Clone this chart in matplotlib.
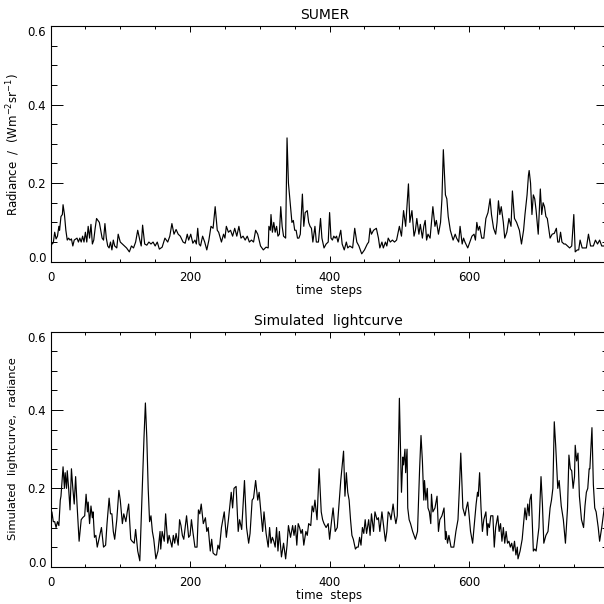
import matplotlib
matplotlib.use("Agg")
import matplotlib.pyplot as plt
from matplotlib.ticker import MultipleLocator

# -------------------------------------------------
# DATA
# -------------------------------------------------

sumer_steps = [
    0, 2, 4, 6, 8, 10, 12, 13, 15, 17, 18, 20, 22, 24, 26, 28, 30, 32, 34, 38,
    40, 42, 44, 46, 48, 50, 52, 54, 56, 58, 60, 62, 64, 66, 68, 70, 72, 74, 76, 78,
    80, 82, 84, 86, 88, 90, 92, 95, 97, 100, 103, 106, 109, 113, 116, 119, 122, 125, 128, 130,
    132, 135, 138, 141, 144, 147, 150, 153, 156, 160, 164, 168, 171, 174, 177, 180, 183, 186, 190, 193,
    196, 198, 201, 204, 207, 209, 211, 213, 215, 218, 221, 224, 227, 230, 233, 236, 239, 241, 245, 248,
    250, 252, 255, 258, 261, 264, 267, 270, 273, 276, 279, 282, 285, 288, 291, 294, 297, 301, 305, 309,
    312, 313, 315, 316, 318, 320, 322, 324, 326, 328, 330, 332, 334, 337, 339, 341, 343, 346, 348, 350,
    352, 354, 356, 358, 361, 363, 365, 368, 370, 372, 374, 376, 379, 381, 384, 387, 389, 392, 395, 398,
    400, 402, 404, 406, 408, 410, 412, 416, 418, 421, 424, 426, 429, 433, 436, 439, 442, 446, 450, 454,
    456, 458, 460, 463, 467, 470, 472, 475, 477, 480, 482, 484, 487, 490, 493, 496, 500, 503, 506, 509,
    513, 515, 518, 521, 523, 525, 528, 530, 533, 535, 537, 539, 541, 544, 548, 551, 553, 556, 559, 561,
    563, 566, 568, 570, 573, 577, 580, 582, 585, 587, 590, 592, 594, 598, 601, 604, 607, 609, 611, 613,
    615, 618, 621, 624, 627, 630, 632, 635, 638, 640, 642, 644, 646, 649, 651, 654, 657, 660, 662, 665,
    668, 670, 672, 675, 678, 680, 683, 685, 686, 688, 690, 692, 694, 696, 699, 702, 704, 706, 708, 710,
    712, 714, 716, 719, 722, 725, 727, 729, 731, 733, 736, 738, 741, 744, 747, 750, 752, 755, 757, 759,
    762, 765, 768, 771, 774, 778, 781, 784, 787, 790, 794,
]
sumer_radiance = [
    0.035, 0.045, 0.048, 0.075, 0.058, 0.065, 0.09, 0.08, 0.115, 0.12, 0.145, 0.12, 0.08, 0.055, 0.06, 0.055, 0.058, 0.04, 0.055, 0.06,
    0.05, 0.06, 0.05, 0.065, 0.05, 0.075, 0.05, 0.09, 0.06, 0.095, 0.045, 0.055, 0.085, 0.11, 0.105, 0.1, 0.08, 0.06, 0.055, 0.097,
    0.06, 0.04, 0.035, 0.05, 0.03, 0.055, 0.04, 0.035, 0.07, 0.05, 0.045, 0.04, 0.035, 0.025, 0.04, 0.035, 0.05, 0.08, 0.055, 0.04,
    0.093, 0.045, 0.042, 0.05, 0.045, 0.05, 0.04, 0.05, 0.032, 0.037, 0.06, 0.05, 0.065, 0.097, 0.07, 0.082, 0.07, 0.065, 0.05, 0.047,
    0.07, 0.055, 0.07, 0.047, 0.055, 0.045, 0.085, 0.045, 0.04, 0.065, 0.05, 0.03, 0.055, 0.09, 0.085, 0.14, 0.08, 0.075, 0.05, 0.07,
    0.06, 0.09, 0.075, 0.08, 0.065, 0.085, 0.065, 0.09, 0.06, 0.065, 0.055, 0.065, 0.05, 0.055, 0.05, 0.08, 0.07, 0.04, 0.03, 0.037,
    0.035, 0.09, 0.08, 0.12, 0.075, 0.1, 0.075, 0.09, 0.065, 0.07, 0.14, 0.09, 0.065, 0.06, 0.315, 0.2, 0.16, 0.1, 0.105, 0.08,
    0.08, 0.06, 0.06, 0.07, 0.172, 0.09, 0.125, 0.13, 0.1, 0.09, 0.085, 0.05, 0.09, 0.05, 0.05, 0.11, 0.06, 0.035, 0.045, 0.05,
    0.125, 0.06, 0.055, 0.065, 0.06, 0.065, 0.05, 0.08, 0.045, 0.03, 0.05, 0.035, 0.04, 0.035, 0.085, 0.05, 0.04, 0.02, 0.03, 0.045,
    0.05, 0.085, 0.07, 0.08, 0.085, 0.06, 0.035, 0.05, 0.035, 0.05, 0.04, 0.06, 0.05, 0.055, 0.05, 0.055, 0.09, 0.065, 0.13, 0.09,
    0.198, 0.1, 0.13, 0.065, 0.08, 0.11, 0.07, 0.095, 0.06, 0.09, 0.105, 0.055, 0.07, 0.06, 0.14, 0.09, 0.105, 0.07, 0.1, 0.16,
    0.285, 0.17, 0.16, 0.115, 0.08, 0.055, 0.07, 0.06, 0.05, 0.09, 0.045, 0.06, 0.05, 0.035, 0.05, 0.065, 0.07, 0.055, 0.1, 0.08,
    0.09, 0.06, 0.06, 0.11, 0.125, 0.16, 0.12, 0.085, 0.07, 0.1, 0.155, 0.12, 0.14, 0.1, 0.06, 0.075, 0.11, 0.09, 0.18, 0.11,
    0.1, 0.09, 0.08, 0.045, 0.08, 0.12, 0.17, 0.22, 0.232, 0.2, 0.12, 0.17, 0.16, 0.13, 0.07, 0.185, 0.12, 0.15, 0.14, 0.115,
    0.11, 0.085, 0.06, 0.07, 0.072, 0.085, 0.05, 0.05, 0.075, 0.05, 0.045, 0.045, 0.04, 0.035, 0.04, 0.12, 0.025, 0.03, 0.03, 0.055,
    0.035, 0.035, 0.035, 0.07, 0.04, 0.04, 0.055, 0.045, 0.055, 0.04, 0.04,
]

sim_steps = [
    0, 2, 4, 6, 8, 10, 12, 14, 15, 18, 20, 21, 23, 24, 26, 28, 30, 32, 34, 36,
    38, 41, 44, 46, 49, 51, 53, 54, 56, 58, 60, 61, 63, 65, 67, 70, 73, 76, 79, 81,
    84, 86, 88, 90, 92, 95, 98, 100, 103, 105, 108, 110, 112, 115, 117, 120, 122, 125, 128, 131,
    134, 136, 138, 140, 142, 144, 146, 148, 151, 154, 157, 158, 160, 163, 165, 168, 170, 172, 174, 176,
    178, 180, 183, 185, 187, 189, 191, 193, 195, 198, 200, 202, 204, 207, 210, 212, 214, 216, 219, 222,
    224, 226, 229, 231, 233, 236, 238, 240, 242, 245, 249, 252, 255, 259, 261, 263, 266, 269, 271, 274,
    278, 281, 284, 286, 289, 291, 294, 297, 299, 302, 304, 306, 309, 312, 314, 316, 318, 320, 322, 324,
    326, 328, 331, 334, 337, 339, 341, 344, 347, 349, 351, 353, 355, 357, 359, 361, 363, 366, 368, 370,
    373, 375, 377, 379, 382, 385, 388, 390, 392, 395, 398, 400, 403, 405, 408, 411, 414, 416, 420, 422,
    424, 426, 428, 430, 432, 434, 437, 439, 441, 443, 445, 447, 449, 451, 453, 456, 458, 460, 463, 465,
    468, 470, 472, 475, 477, 480, 482, 484, 486, 488, 491, 493, 495, 497, 500, 503, 505, 506, 508, 509,
    511, 512, 514, 516, 519, 523, 526, 529, 531, 533, 535, 536, 538, 540, 541, 543, 545, 546, 548, 551,
    554, 556, 558, 561, 564, 566, 567, 569, 571, 574, 578, 581, 584, 586, 588, 591, 594, 596, 598, 600,
    602, 605, 608, 610, 612, 613, 615, 617, 619, 621, 624, 626, 627, 629, 631, 634, 636, 638, 641, 643,
    645, 647, 649, 651, 653, 655, 657, 659, 661, 663, 665, 667, 669, 670, 673, 676, 680, 682, 684, 686,
    687, 689, 692, 694, 696, 698, 700, 703, 705, 707, 710, 713, 716, 718, 720, 722, 724, 727, 729, 732,
    735, 738, 741, 743, 745, 747, 749, 751, 752, 754, 756, 758, 761, 764, 766, 768, 770, 772, 773, 776,
    778, 780, 782, 785, 787, 790, 794,
]
sim_radiance = [
    0.09, 0.14, 0.115, 0.115, 0.1, 0.115, 0.105, 0.17, 0.18, 0.255, 0.2, 0.24, 0.2, 0.245, 0.2, 0.145, 0.25, 0.2, 0.16, 0.23,
    0.16, 0.065, 0.12, 0.125, 0.13, 0.185, 0.14, 0.165, 0.11, 0.155, 0.125, 0.14, 0.075, 0.08, 0.05, 0.075, 0.1, 0.05, 0.055, 0.11,
    0.175, 0.135, 0.135, 0.09, 0.07, 0.12, 0.195, 0.17, 0.11, 0.135, 0.115, 0.14, 0.16, 0.07, 0.065, 0.06, 0.095, 0.04, 0.015, 0.17,
    0.33, 0.418, 0.33, 0.2, 0.115, 0.13, 0.09, 0.07, 0.02, 0.04, 0.09, 0.045, 0.09, 0.065, 0.135, 0.06, 0.08, 0.065, 0.05, 0.08,
    0.06, 0.085, 0.055, 0.12, 0.105, 0.08, 0.07, 0.1, 0.13, 0.075, 0.08, 0.12, 0.09, 0.05, 0.05, 0.145, 0.135, 0.16, 0.11, 0.125,
    0.09, 0.1, 0.04, 0.07, 0.035, 0.03, 0.03, 0.055, 0.045, 0.1, 0.14, 0.075, 0.12, 0.19, 0.15, 0.2, 0.205, 0.09, 0.12, 0.095,
    0.22, 0.1, 0.06, 0.085, 0.17, 0.175, 0.22, 0.17, 0.19, 0.13, 0.09, 0.14, 0.085, 0.05, 0.1, 0.06, 0.075, 0.065, 0.05, 0.1,
    0.04, 0.09, 0.025, 0.06, 0.02, 0.055, 0.105, 0.075, 0.105, 0.08, 0.105, 0.055, 0.11, 0.1, 0.085, 0.095, 0.055, 0.09, 0.08, 0.11,
    0.105, 0.155, 0.14, 0.17, 0.12, 0.25, 0.14, 0.12, 0.11, 0.1, 0.11, 0.07, 0.12, 0.15, 0.09, 0.1, 0.17, 0.22, 0.295, 0.18,
    0.24, 0.19, 0.17, 0.12, 0.08, 0.07, 0.045, 0.05, 0.05, 0.075, 0.055, 0.1, 0.085, 0.12, 0.085, 0.12, 0.08, 0.135, 0.09, 0.14,
    0.12, 0.125, 0.09, 0.14, 0.11, 0.065, 0.09, 0.14, 0.135, 0.12, 0.16, 0.13, 0.11, 0.13, 0.43, 0.19, 0.28, 0.26, 0.3, 0.24,
    0.3, 0.15, 0.12, 0.11, 0.09, 0.07, 0.09, 0.25, 0.335, 0.27, 0.17, 0.22, 0.17, 0.2, 0.15, 0.14, 0.11, 0.185, 0.14, 0.15,
    0.18, 0.09, 0.12, 0.13, 0.15, 0.07, 0.09, 0.06, 0.08, 0.05, 0.05, 0.09, 0.12, 0.2, 0.29, 0.15, 0.13, 0.15, 0.165, 0.13,
    0.09, 0.06, 0.12, 0.16, 0.19, 0.18, 0.24, 0.15, 0.09, 0.12, 0.14, 0.08, 0.11, 0.1, 0.13, 0.13, 0.05, 0.1, 0.13, 0.09,
    0.11, 0.065, 0.1, 0.06, 0.09, 0.06, 0.065, 0.05, 0.06, 0.04, 0.065, 0.03, 0.05, 0.02, 0.04, 0.07, 0.15, 0.12, 0.16, 0.13,
    0.17, 0.185, 0.04, 0.045, 0.04, 0.07, 0.1, 0.23, 0.16, 0.06, 0.08, 0.09, 0.15, 0.17, 0.2, 0.37, 0.31, 0.2, 0.22, 0.155,
    0.12, 0.06, 0.15, 0.285, 0.25, 0.245, 0.2, 0.23, 0.31, 0.27, 0.29, 0.18, 0.12, 0.1, 0.155, 0.19, 0.2, 0.25, 0.25, 0.355,
    0.21, 0.15, 0.14, 0.1, 0.065, 0.1, 0.155,
]

y_ticks = [0.0, 0.2, 0.4, 0.6]
y_tick_labels = ["0.0", "0.2", "0.4", "0.6"]

# -------------------------------------------------
# PLOT
# -------------------------------------------------

plt.rcParams["font.family"] = ["DejaVu Sans"]

fig = plt.figure(figsize=(6.04, 6.04), dpi=100)


def draw_panel(y_top, y_bottom, steps, values, title, title_x, ylabel, ylabel_y, ylabel_size):
    # pixel box -> figure fractions, right edge runs past the picture
    ax = fig.add_axes([50.5 / 604, 1 - y_bottom / 604, 557.5 / 604, (y_bottom - y_top) / 604])
    ax.plot(steps, values, color="black", linewidth=0.85)
    ax.set_xlim(0, 799)
    ax.set_ylim(0, 0.6)

    ax.xaxis.set_major_locator(MultipleLocator(200))
    ax.xaxis.set_minor_locator(MultipleLocator(50))
    ax.set_yticks(y_ticks, y_tick_labels)
    ax.yaxis.set_minor_locator(MultipleLocator(0.05))

    ax.tick_params(axis="x", which="major", direction="in", length=4.3, width=0.7,
                   top=True, labelsize=8.5, pad=6.5)
    ax.tick_params(axis="x", which="minor", direction="in", length=2.2, width=0.7, top=True)
    ax.tick_params(axis="y", which="major", direction="in", length=8.6, width=0.7,
                   right=True, labelsize=8.5, pad=3)
    ax.tick_params(axis="y", which="minor", direction="in", length=4.3, width=0.7, right=True)

    labels = ax.get_yticklabels()
    labels[0].set_va("baseline")
    labels[-1].set_va("top")

    for spine in ax.spines.values():
        spine.set_linewidth(0.8)

    fig.text(title_x / 604, 1 - (y_top - 11) / 604, title, ha="center", va="center", fontsize=10)
    fig.text(329 / 604, 1 - (y_bottom + 28.5) / 604, "time  steps", ha="center", va="center", fontsize=8.5)
    fig.text(13 / 604, 1 - ylabel_y / 604, ylabel, rotation=90, ha="center", va="center",
             fontsize=ylabel_size)
    return ax


draw_panel(25.9, 261.7, sumer_steps, sumer_radiance, "SUMER", 325,
           r"Radiance  /  (Wm$^{-2}$sr$^{-1}$)", 145, 8.5)
draw_panel(331.7, 566.7, sim_steps, sim_radiance, "Simulated  lightcurve", 328,
           "Simulated  lightcurve,  radiance", 449, 8.2)

plt.savefig("out.png", dpi=100)
